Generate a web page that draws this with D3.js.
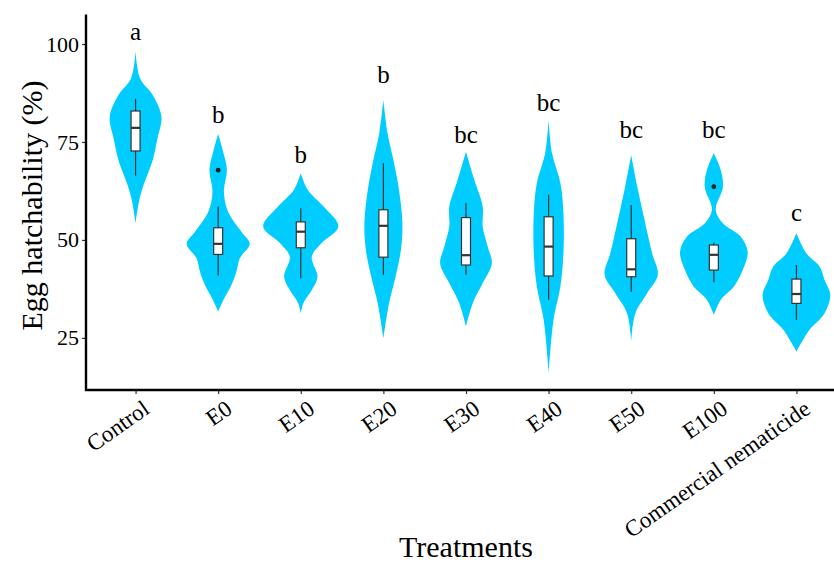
<!DOCTYPE html>
<meta charset='utf-8'>
<style>
	body { margin: 0; background: #fff; }
	text { font-family: 'Liberation Serif', 'Times New Roman', serif; fill: #000; }
</style>
<body>
	<div id='container'></div>
<script src='https://d3js.org/d3.v7.min.js'></script>
<script>
	// treatments along the x axis
	const treatments = ['Control', 'E0', 'E10', 'E20', 'E30', 'E40', 'E50', 'E100', 'Commercial nematicide'];

	// violin outlines: [hatchability %, relative density]
	const violinControl = [[98.2, 0], [91.2, .12], [87.0, .45], [81.5, .68], [76.0, .58], [70.0, .44], [64.0, .21], [59.8, .09], [54.3, 0]];
	const violinE0 = [[77.0, 0], [72.5, .13], [67.9, .23], [62.3, .15], [57.2, .26], [52.1, .61], [49.0, .83], [45.3, .57], [41.9, .48], [38.5, .35], [35.1, .16], [31.7, 0]];
	const violinE10 = [[67.0, 0], [62.8, .18], [58.5, .60], [53.4, .99], [49.2, .55], [45.7, .29], [40.6, .44], [37.2, .29], [33.9, .07], [31.3, 0]];
	const violinE20 = [[85.7, 0], [77.2, .11], [69.6, .28], [62.8, .41], [54.3, .50], [47.4, .46], [40.6, .32], [33.9, .15], [24.9, 0]];
	const violinE30 = [[72.5, 0], [65.3, .22], [58.5, .44], [53.4, .44], [48.3, .57], [44.0, .68], [39.0, .44], [33.9, .18], [27.9, 0]];
	const violinE40 = [[80.6, 0], [72.1, .09], [64.5, .31], [56.8, .39], [46.6, .39], [38.1, .31], [29.6, .13], [16.0, 0]];
	const violinE50 = [[71.7, 0], [63.6, .16], [55.1, .35], [46.6, .55], [41.1, .70], [36.4, .42], [31.3, .11], [24.1, 0]];
	const violinE100 = [[72.1, 0], [67.9, .18], [63.6, .24], [57.7, .05], [54.3, .23], [50.8, .71], [47.0, .89], [42.3, .76], [38.1, .53], [34.7, .18], [30.9, 0]];
	const violinCommercial = [[51.7, 0], [46.6, .26], [43.2, .61], [39.8, .74], [36.0, .89], [31.3, .74], [27.0, .34], [21.5, 0]];
	const violins = [violinControl, violinE0, violinE10, violinE20, violinE30, violinE40, violinE50, violinE100, violinCommercial];

	// box stats: [lower whisker, q1, median, q3, upper whisker]
	const boxStats = [
		[66.4, 72.7, 78.6, 82.9, 86.0],
		[40.9, 46.3, 49.0, 53.1, 58.5],
		[40.2, 48.0, 52.1, 54.6, 58.1],
		[41.1, 45.6, 53.6, 57.7, 69.6],
		[41.1, 43.6, 46.1, 55.7, 59.4],
		[34.7, 40.8, 48.3, 55.9, 61.5],
		[36.8, 40.6, 42.5, 50.3, 58.9],
		[39.2, 42.3, 46.2, 48.7, 49.3],
		[29.6, 33.8, 36.2, 40.0, 43.6],
	];
	const outliers = [[], [67.8], [], [], [], [], [], [63.6], []];

	// significance letters and the height they sit at
	const letters = ['a', 'b', 'b', 'b', 'bc', 'bc', 'bc', 'bc', 'c'];
	const letterY = [100.9, 79.8, 69.7, 90.0, 74.8, 83.0, 76.0, 76.0, 54.9];

	const yTicks = [25, 50, 75, 100];

	const W = 834, H = 562,
		margin = { top: 15, left: 86, right: -12, bottom: 172 },
		width = W - margin.left - margin.right,
		height = H - margin.top - margin.bottom,
		maxHalf = 38, boxHalf = 4.5;

	const xScale = d3.scalePoint()
		.domain( treatments )
		.range( [0, width] )
		.padding( 0.6 );

	const yScale = d3.scaleLinear()
		.domain( [11.7, 107.4] )
		.range( [height, 0] );

	const wScale = d3.scaleLinear()
		.domain( [0, 1] )
		.range( [0, maxHalf] );

	const svg = d3.select( '#container' )
		.append( 'svg' )
		.attr( 'width', W )
		.attr( 'height', H )
		.append( 'g' )
			.attr( 'transform', `translate( ${margin.left}, ${margin.top} )` );

	const area = d3.area()
		.curve( d3.curveCatmullRom.alpha( 0.5 ) )
		.y( d => yScale( d[0] ) )
		.x0( d => -wScale( d[1] ) )
		.x1( d => wScale( d[1] ) );

	const groups = svg.selectAll( '.treat' )
		.data( treatments )
		.enter().append( 'g' )
			.attr( 'class', 'treat' )
			.attr( 'transform', d => `translate( ${xScale( d )}, 0 )` );

	groups.append( 'path' )
		.attr( 'd', ( d, i ) => area( violins[i] ) )
		.attr( 'fill', '#00CCFF' );

	// whiskers
	groups.append( 'line' )
		.attr( 'y1', ( d, i ) => yScale( boxStats[i][0] ) )
		.attr( 'y2', ( d, i ) => yScale( boxStats[i][4] ) )
		.attr( 'stroke', '#333' )
		.attr( 'stroke-width', 1.2 );

	groups.append( 'rect' )
		.attr( 'x', -boxHalf )
		.attr( 'width', boxHalf * 2 )
		.attr( 'y', ( d, i ) => yScale( boxStats[i][3] ) )
		.attr( 'height', ( d, i ) => yScale( boxStats[i][1] ) - yScale( boxStats[i][3] ) )
		.attr( 'fill', '#fff' )
		.attr( 'stroke', '#333' )
		.attr( 'stroke-width', 1.2 );

	groups.append( 'line' )
		.attr( 'x1', -boxHalf )
		.attr( 'x2', boxHalf )
		.attr( 'y1', ( d, i ) => yScale( boxStats[i][2] ) )
		.attr( 'y2', ( d, i ) => yScale( boxStats[i][2] ) )
		.attr( 'stroke', '#333' )
		.attr( 'stroke-width', 2.2 );

	groups.selectAll( 'circle' )
		.data( ( d, i ) => outliers[i] )
		.enter().append( 'circle' )
			.attr( 'cy', v => yScale( v ) )
			.attr( 'r', 2.4 )
			.attr( 'fill', '#222' );

	groups.append( 'text' )
		.attr( 'y', ( d, i ) => yScale( letterY[i] ) )
		.attr( 'text-anchor', 'middle' )
		.style( 'font-size', '25px' )
		.text( ( d, i ) => letters[i] );

	// axes
	const yAxis = d3.axisLeft( yScale )
		.tickValues( yTicks )
		.tickSize( 4 )
		.tickPadding( 3 );

	const yAxisEl = svg.append( 'g' ).call( yAxis );
	yAxisEl.select( '.domain' ).remove();
	yAxisEl.selectAll( '.tick line' ).attr( 'stroke', '#333' ).attr( 'stroke-width', 1.2 );
	yAxisEl.selectAll( '.tick text' )
		.style( 'font-size', '22px' )
		.style( 'font-family', "'Liberation Serif', serif" )
		.attr( 'fill', '#000' );

	const xAxis = d3.axisBottom( xScale )
		.tickSize( 4 );

	const xAxisEl = svg.append( 'g' )
		.attr( 'transform', `translate( 0, ${height} )` )
		.call( xAxis );
	xAxisEl.select( '.domain' ).remove();
	xAxisEl.selectAll( '.tick line' ).attr( 'stroke', '#333' ).attr( 'stroke-width', 1.2 );
	xAxisEl.selectAll( '.tick text' )
		.style( 'font-size', '23px' )
		.style( 'font-family', "'Liberation Serif', serif" )
		.attr( 'fill', '#000' )
		.attr( 'text-anchor', 'end' )
		.attr( 'y', 0 )
		.attr( 'dy', '0.75em' )
		.attr( 'transform', 'translate( 5, 8 ) rotate( -35 )' );

	// axis lines
	svg.append( 'path' )
		.attr( 'd', `M0,-0.5V${height}H${width}` )
		.attr( 'fill', 'none' )
		.attr( 'stroke', '#000' )
		.attr( 'stroke-width', 2.4 );

	svg.append( 'text' )
		.attr( 'x', width / 2 )
		.attr( 'y', H - margin.top - 5 )
		.attr( 'text-anchor', 'middle' )
		.style( 'font-size', '30px' )
		.text( 'Treatments' );

	svg.append( 'text' )
		.attr( 'transform', `translate( ${42 - margin.left}, ${height / 2 + 3} ) rotate( -90 )` )
		.attr( 'text-anchor', 'middle' )
		.style( 'font-size', '30px' )
		.text( 'Egg hatchability (%)' );
</script>
</body>
